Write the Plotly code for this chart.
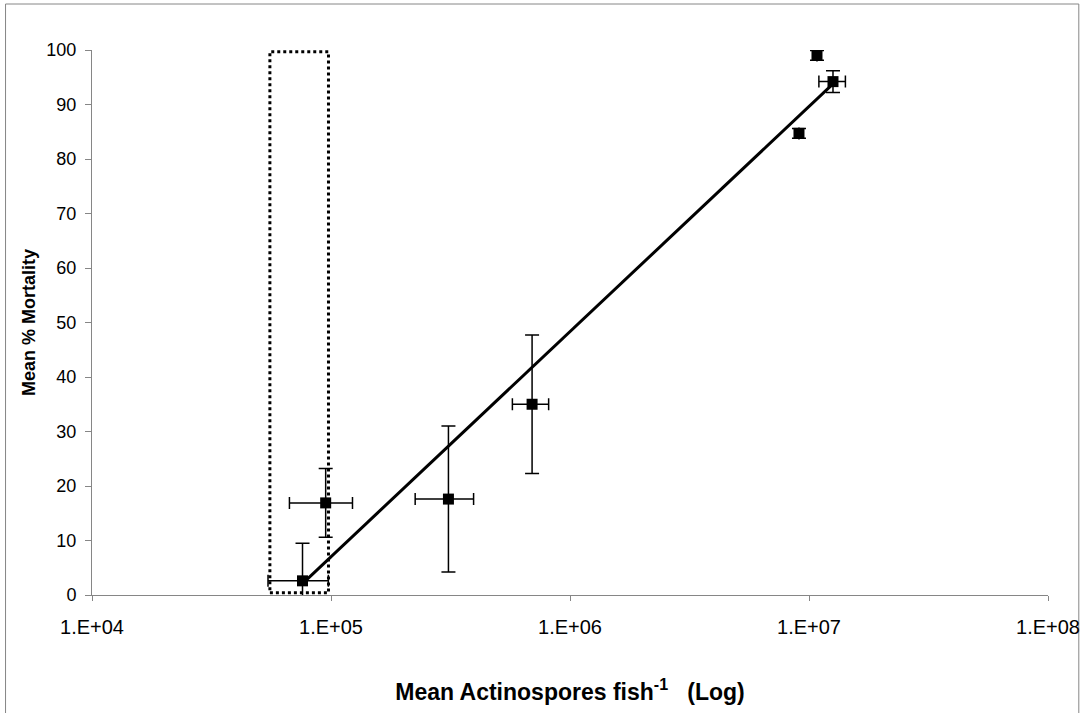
import numpy as np
import plotly.graph_objects as go

# ---- data ----
spores = [76000, 95000, 310000, 694000, 12600000, 10800000, 9080000]
spores_err = [21500, 28000, 85000, 120000, 1600000, 0, 0]
mortality = [2.6, 16.9, 17.6, 35.0, 94.2, 99.0, 84.7]
mortality_err = [6.9, 6.3, 13.4, 12.7, 2.0, 0.9, 0.9]

x_tickvals = [1e4, 1e5, 1e6, 1e7, 1e8]
x_ticktext = ["1.E+04", "1.E+05", "1.E+06", "1.E+07", "1.E+08"]

# highlighted region (dotted box)
box_x = [55500, 97600]
box_y = [0.4, 99.7]

# ---- trend line: linear regression of mortality on log10(spores) ----
logx = np.log10(spores)
slope, intercept = np.polyfit(logx, mortality, 1)
fit_logx = np.linspace(logx.min(), logx.max(), 50)
fit_x = 10 ** fit_logx
fit_y = intercept + slope * fit_logx

FONT = "Liberation Sans, Arial, sans-serif"
AXIS_GRAY = "#868686"
NB = "\u00a0"

fig = go.Figure()

fig.add_trace(go.Scatter(
    x=fit_x, y=fit_y, mode="lines",
    line=dict(color="black", width=3),
    hoverinfo="skip", showlegend=False,
))

fig.add_trace(go.Scatter(
    x=spores, y=mortality, mode="markers",
    marker=dict(symbol="square", size=11, color="black"),
    error_y=dict(type="data", array=mortality_err, color="black",
                 thickness=1.5, width=7),
    error_x=dict(type="data", array=spores_err, color="black",
                 thickness=1.5, width=6),
    showlegend=False,
))

# dotted highlight box
fig.add_shape(type="rect", xref="x", yref="y",
              x0=box_x[0], x1=box_x[1], y0=box_y[0], y1=box_y[1],
              line=dict(color="black", width=3, dash="3px,3px"),
              fillcolor="rgba(0,0,0,0)", layer="above")

# chart-area border
L, R, T, B = 92, 1054, 50, 595
W, H = R - L, B - T
def px(xp):
    return (xp - L) / W
def py(yp):
    return (B - yp) / H
fig.add_shape(type="rect", xref="paper", yref="paper",
              x0=px(5), x1=px(1085), y0=py(716), y1=py(4),
              line=dict(color=AXIS_GRAY, width=1), layer="below")

fig.update_layout(
    width=1092, height=713,
    margin=dict(l=L, r=1092 - R, t=T, b=713 - B),
    paper_bgcolor="white", plot_bgcolor="white",
    font=dict(family=FONT, color="black"),
    showlegend=False,
    xaxis=dict(
        type="log", range=[4, 8],
        tickvals=x_tickvals, ticktext=x_ticktext,
        tickfont=dict(size=20, family=FONT),
        ticklabelstandoff=9,
        showline=True, linecolor=AXIS_GRAY, linewidth=1,
        ticks="outside", ticklen=5, tickcolor=AXIS_GRAY,
        showgrid=False, zeroline=False,
        title=dict(
            text="<b>Mean Actinospores fish<sup>-1</sup>" + NB * 3 + "(Log)</b>",
            font=dict(size=23, family=FONT), standoff=46),
    ),
    yaxis=dict(
        range=[0, 100], dtick=10, tick0=0,
        tickfont=dict(size=18, family=FONT),
        ticklabelstandoff=5,
        showline=True, linecolor=AXIS_GRAY, linewidth=1,
        ticks="outside", ticklen=6, tickcolor=AXIS_GRAY,
        showgrid=False, zeroline=False,
        title=dict(text="<b>Mean % Mortality</b>",
                   font=dict(size=18, family=FONT), standoff=6),
    ),
)

fig.write_html(
    "out.html",
    config={"displayModeBar": False},
    post_script="document.body.style.margin='0';document.body.style.overflow='hidden';",
)
